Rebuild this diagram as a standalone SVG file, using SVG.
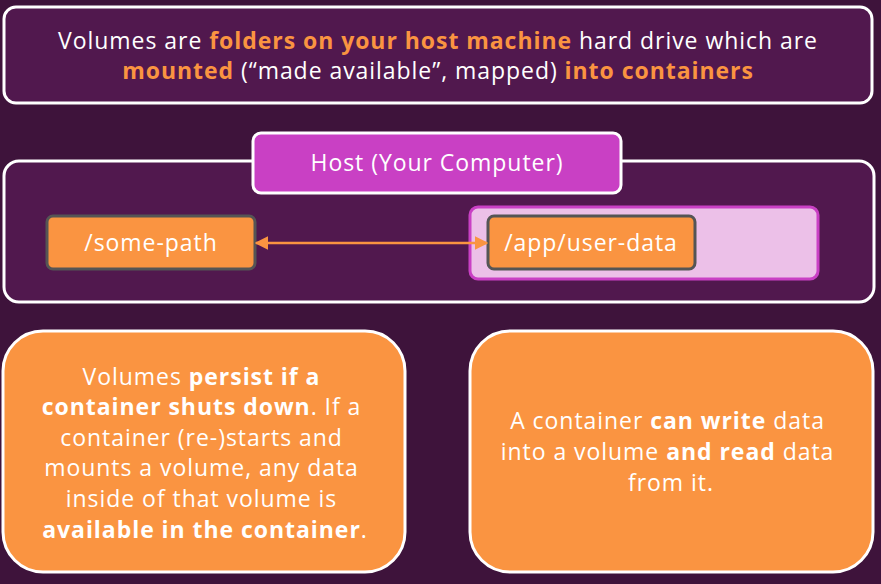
<svg xmlns="http://www.w3.org/2000/svg" width="881" height="584" viewBox="0 0 881 584">
  <defs>
    <style>
      .t { font-family: "Open Sans", Lato, "Liberation Sans", sans-serif; font-size: 23px; letter-spacing: 0.95px; fill: #ffffff; }
      .hl { fill: #fa9441; font-weight: 700; }
      .b { font-weight: 700; }
      .panel { fill: #51184e; stroke: #ffffff; stroke-width: 3; }
      .folder { fill: #fa9441; stroke: #555555; stroke-width: 3; }
      .note { fill: #fa9441; stroke: #ffffff; stroke-width: 3; }
      .link { stroke: #fa9441; stroke-width: 2.5; fill: none; }
    </style>
    <marker id="head" viewBox="0 0 10 10" refX="9" refY="5" markerWidth="5.5" markerHeight="5.5" orient="auto-start-reverse">
      <path d="M0,0 L10,5 L0,10 z" fill="#fa9441"/>
    </marker>
  </defs>

  <rect width="881" height="584" fill="#3e133b"/>

  <g id="intro">
    <rect class="panel" x="4" y="7" width="868" height="96" rx="12"/>
    <text class="t" x="438" y="49" text-anchor="middle">Volumes are <tspan class="hl">folders on your host machine</tspan> hard drive which are</text>
    <text class="t" x="438" y="79" text-anchor="middle"><tspan class="hl">mounted</tspan> (“made available”, mapped) <tspan class="hl">into containers</tspan></text>
  </g>

  <g id="host">
    <rect class="panel" x="4" y="161" width="870" height="141" rx="15"/>
    <rect x="253" y="133" width="368" height="60" rx="8" fill="#c940c4" stroke="#ffffff" stroke-width="3"/>
    <text class="t" x="437" y="171" text-anchor="middle">Host (Your Computer)</text>
  </g>

  <g id="container">
    <rect x="470" y="207" width="348" height="72" rx="8" fill="#ecc0e8" stroke="#c940c4" stroke-width="3"/>
  </g>

  <g id="host-path">
    <rect class="folder" x="47" y="216" width="208" height="53" rx="6"/>
    <text class="t" x="151" y="251" text-anchor="middle">/some-path</text>
  </g>

  <g id="container-path">
    <rect class="folder" x="488" y="216" width="207" height="53" rx="6"/>
    <text class="t" x="591" y="251" text-anchor="middle">/app/user-data</text>
  </g>

  <g id="connectors">
    <line class="link" x1="256" y1="243" x2="487" y2="243" marker-start="url(#head)" marker-end="url(#head)"/>
  </g>

  <g id="persist-note">
    <rect class="note" x="3" y="331" width="402" height="241" rx="40"/>
    <text class="t" text-anchor="middle">
      <tspan x="205" y="385">Volumes <tspan class="b">persist if a</tspan></tspan>
      <tspan x="205" y="415"><tspan class="b">container shuts down</tspan>. If a</tspan>
      <tspan x="205" y="446">container (re-)starts and</tspan>
      <tspan x="205" y="476">mounts a volume, any data</tspan>
      <tspan x="205" y="507">inside of that volume is</tspan>
      <tspan x="205" y="538"><tspan class="b">available in the container</tspan>.</tspan>
    </text>
  </g>

  <g id="readwrite-note">
    <rect class="note" x="470" y="331" width="403" height="241" rx="40"/>
    <text class="t" text-anchor="middle">
      <tspan x="671" y="429">A container <tspan class="b">can write</tspan> data</tspan>
      <tspan x="671" y="460">into a volume <tspan class="b">and read</tspan> data</tspan>
      <tspan x="671" y="491">from it.</tspan>
    </text>
  </g>
</svg>
